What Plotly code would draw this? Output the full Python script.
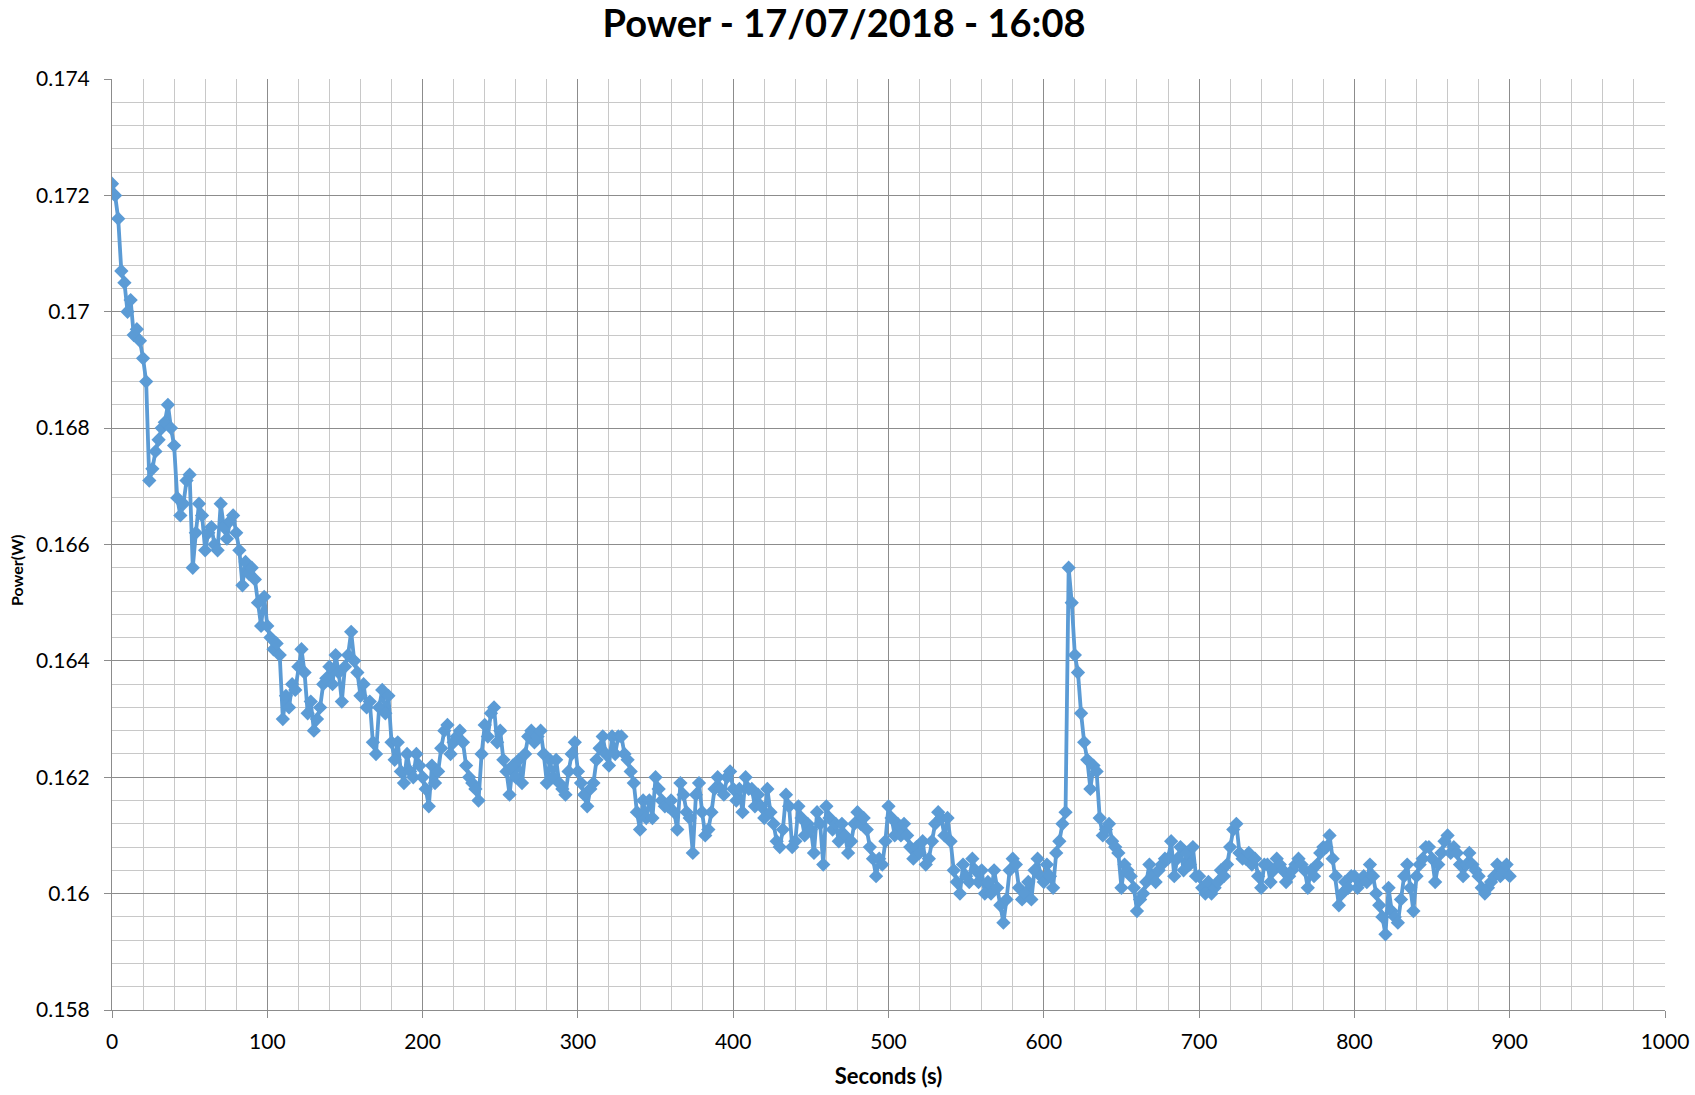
import plotly.graph_objects as go

# Time axis (seconds), one sample every 2 s
seconds = list(range(0, 901, 2))

# Power readings (W)
power = [
    # 0-18
    0.1722, 0.1720, 0.1716, 0.1707, 0.1705, 0.1700, 0.1702, 0.1696, 0.1697, 0.1695,
    # 20-38
    0.1692, 0.1688, 0.1671, 0.1673, 0.1676, 0.1678, 0.1680, 0.1681, 0.1684, 0.1680,
    # 40-58
    0.1677, 0.1668, 0.1665, 0.1667, 0.1671, 0.1672, 0.1656, 0.1662, 0.1667, 0.1665,
    # 60-78
    0.1659, 0.1662, 0.1663, 0.1660, 0.1659, 0.1667, 0.1663, 0.1661, 0.1664, 0.1665,
    # 80-98
    0.1662, 0.1659, 0.1653, 0.1657, 0.1655, 0.1656, 0.1654, 0.1650, 0.1646, 0.1651,
    # 100-118
    0.1646, 0.1644, 0.1642, 0.1643, 0.1641, 0.1630, 0.1634, 0.1632, 0.1636, 0.1635,
    # 120-138
    0.1639, 0.1642, 0.1638, 0.1631, 0.1633, 0.1628, 0.1630, 0.1632, 0.1636, 0.1637,
    # 140-158
    0.1639, 0.1636, 0.1641, 0.1638, 0.1633, 0.1639, 0.1641, 0.1645, 0.1640, 0.1638,
    # 160-178
    0.1634, 0.1636, 0.1632, 0.1633, 0.1626, 0.1624, 0.1632, 0.1635, 0.1631, 0.1634,
    # 180-198
    0.1626, 0.1623, 0.1626, 0.1621, 0.1619, 0.1624, 0.1621, 0.1620, 0.1624, 0.1622,
    # 200-218
    0.1620, 0.1618, 0.1615, 0.1622, 0.1619, 0.1621, 0.1625, 0.1628, 0.1629, 0.1624,
    # 220-238
    0.1626, 0.1627, 0.1628, 0.1626, 0.1622, 0.1620, 0.1619, 0.1618, 0.1616, 0.1624,
    # 240-258
    0.1629, 0.1627, 0.1631, 0.1632, 0.1626, 0.1628, 0.1623, 0.1621, 0.1617, 0.1622,
    # 260-278
    0.1620, 0.1623, 0.1619, 0.1624, 0.1627, 0.1628, 0.1626, 0.1627, 0.1628, 0.1624,
    # 280-298
    0.1619, 0.1623, 0.1620, 0.1623, 0.1619, 0.1618, 0.1617, 0.1621, 0.1624, 0.1626,
    # 300-318
    0.1621, 0.1619, 0.1617, 0.1615, 0.1618, 0.1619, 0.1623, 0.1625, 0.1627, 0.1624,
    # 320-338
    0.1622, 0.1627, 0.1624, 0.1627, 0.1627, 0.1624, 0.1623, 0.1621, 0.1619, 0.1614,
    # 340-358
    0.1611, 0.1616, 0.1613, 0.1616, 0.1613, 0.1620, 0.1618, 0.1616, 0.1615, 0.1615,
    # 360-378
    0.1616, 0.1614, 0.1611, 0.1619, 0.1617, 0.1614, 0.1613, 0.1607, 0.1617, 0.1619,
    # 380-398
    0.1614, 0.1610, 0.1611, 0.1614, 0.1618, 0.1620, 0.1618, 0.1617, 0.1620, 0.1621,
    # 400-418
    0.1618, 0.1616, 0.1618, 0.1614, 0.1620, 0.1618, 0.1618, 0.1615, 0.1617, 0.1615,
    # 420-438
    0.1613, 0.1618, 0.1614, 0.1612, 0.1609, 0.1608, 0.1611, 0.1617, 0.1615, 0.1608,
    # 440-458
    0.1609, 0.1615, 0.1613, 0.1610, 0.1612, 0.1611, 0.1607, 0.1614, 0.1612, 0.1605,
    # 460-478
    0.1615, 0.1613, 0.1611, 0.1612, 0.1609, 0.1612, 0.1610, 0.1607, 0.1609, 0.1612,
    # 480-498
    0.1614, 0.1612, 0.1613, 0.1611, 0.1608, 0.1606, 0.1603, 0.1606, 0.1605, 0.1609,
    # 500-518
    0.1615, 0.1613, 0.1610, 0.1612, 0.1610, 0.1612, 0.1610, 0.1608, 0.1606, 0.1608,
    # 520-538
    0.1607, 0.1609, 0.1605, 0.1606, 0.1609, 0.1612, 0.1614, 0.1613, 0.1610, 0.1613,
    # 540-558
    0.1609, 0.1604, 0.1602, 0.1600, 0.1605, 0.1603, 0.1602, 0.1606, 0.1604, 0.1602,
    # 560-578
    0.1604, 0.1600, 0.1602, 0.1600, 0.1604, 0.1601, 0.1598, 0.1595, 0.1599, 0.1604,
    # 580-598
    0.1606, 0.1605, 0.1601, 0.1599, 0.1600, 0.1602, 0.1599, 0.1604, 0.1606, 0.1603,
    # 600-618
    0.1602, 0.1605, 0.1603, 0.1601, 0.1607, 0.1609, 0.1612, 0.1614, 0.1656, 0.1650,
    # 620-638
    0.1641, 0.1638, 0.1631, 0.1626, 0.1623, 0.1618, 0.1622, 0.1621, 0.1613, 0.1610,
    # 640-658
    0.1611, 0.1612, 0.1609, 0.1608, 0.1607, 0.1601, 0.1605, 0.1604, 0.1603, 0.1601,
    # 660-678
    0.1597, 0.1599, 0.1600, 0.1602, 0.1605, 0.1603, 0.1602, 0.1604, 0.1605, 0.1606,
    # 680-698
    0.1606, 0.1609, 0.1603, 0.1606, 0.1608, 0.1604, 0.1607, 0.1605, 0.1608, 0.1603,
    # 700-718
    0.1603, 0.1601, 0.1600, 0.1602, 0.1600, 0.1601, 0.1602, 0.1604, 0.1603, 0.1605,
    # 720-738
    0.1608, 0.1611, 0.1612, 0.1607, 0.1606, 0.1606, 0.1607, 0.1605, 0.1606, 0.1603,
    # 740-758
    0.1601, 0.1605, 0.1605, 0.1602, 0.1604, 0.1606, 0.1605, 0.1604, 0.1602, 0.1603,
    # 760-778
    0.1604, 0.1605, 0.1606, 0.1605, 0.1604, 0.1601, 0.1604, 0.1603, 0.1605, 0.1607,
    # 780-798
    0.1608, 0.1608, 0.1610, 0.1606, 0.1603, 0.1598, 0.1600, 0.1602, 0.1601, 0.1603,
    # 800-818
    0.1603, 0.1601, 0.1602, 0.1603, 0.1602, 0.1605, 0.1603, 0.1600, 0.1598, 0.1596,
    # 820-838
    0.1593, 0.1601, 0.1597, 0.1596, 0.1595, 0.1599, 0.1603, 0.1605, 0.1601, 0.1597,
    # 840-858
    0.1603, 0.1605, 0.1606, 0.1608, 0.1608, 0.1606, 0.1602, 0.1605, 0.1607, 0.1609,
    # 860-878
    0.1610, 0.1607, 0.1608, 0.1607, 0.1605, 0.1603, 0.1605, 0.1607, 0.1605, 0.1604,
    # 880-898
    0.1603, 0.1601, 0.1600, 0.1601, 0.1602, 0.1603, 0.1605, 0.1603, 0.1604, 0.1605,
    # 900
    0.1603,
]

y_tickvals = [0.158, 0.160, 0.162, 0.164, 0.166, 0.168, 0.170, 0.172, 0.174]
y_ticktext = ["0.158", "0.16", "0.162", "0.164", "0.166", "0.168", "0.17", "0.172", "0.174"]
x_tickvals = [0, 100, 200, 300, 400, 500, 600, 700, 800, 900, 1000]
x_ticktext = [str(v) for v in x_tickvals]

FONT = "Lato, 'Open Sans', sans-serif"
BLUE = "#5B9BD5"
MAJOR = "#8C8C8C"
MINOR = "#C8C8C8"

W, H = 1695, 1095

fig = go.Figure()
fig.add_trace(go.Scatter(
    x=seconds, y=power, mode="lines+markers",
    line=dict(color=BLUE, width=3.8),
    marker=dict(symbol="diamond", size=11, color=BLUE),
    showlegend=False,
))

fig.update_layout(
    width=W, height=H,
    margin=dict(l=112, r=30, t=79, b=85),
    paper_bgcolor="white", plot_bgcolor="white",
    font=dict(family=FONT, color="#000000"),
    title=dict(text="<b>Power - 17/07/2018 - 16:08</b>", x=844 / W, xanchor="center",
               yref="container", y=1 - 24 / H, yanchor="middle",
               font=dict(size=38, family=FONT, color="#000")),
    xaxis=dict(
        range=[0, 1000], tickvals=x_tickvals, ticktext=x_ticktext,
        automargin=False,
        showgrid=True, gridcolor=MAJOR, gridwidth=1,
        minor=dict(dtick=20, tick0=0, showgrid=True, gridcolor=MINOR, gridwidth=1, ticks=""),
        showline=True, linecolor=MAJOR, linewidth=1,
        ticks="outside", ticklen=7, tickcolor=MAJOR,
        tickfont=dict(size=21, family=FONT, color="#000"),
        ticklabelstandoff=6,
        title=dict(text="<b>Seconds (s)</b>", font=dict(size=22, family=FONT, color="#000"), standoff=16),
        zeroline=False,
    ),
    yaxis=dict(
        range=[0.158, 0.174], tickvals=y_tickvals, ticktext=y_ticktext,
        automargin=False,
        showgrid=True, gridcolor=MAJOR, gridwidth=1,
        minor=dict(dtick=0.0004, tick0=0.158, showgrid=True, gridcolor=MINOR, gridwidth=1, ticks=""),
        showline=True, linecolor=MAJOR, linewidth=1,
        ticks="outside", ticklen=7, tickcolor=MAJOR,
        tickfont=dict(size=21, family=FONT, color="#000"),
        ticklabelstandoff=10,
        zeroline=False,
    ),
    annotations=[dict(
        text="<b>Power(W)</b>", textangle=-90, showarrow=False,
        xref="paper", yref="paper", x=(16 - 112) / (W - 112 - 30), y=(1010 - 571) / (1010 - 79),
        xanchor="center", yanchor="middle",
        font=dict(size=16, family=FONT, color="#000"),
    )],
)

# Remove the default 8 px body margin so the figure fills the window exactly
fig.write_html("out.html", config={"displayModeBar": False},
               post_script="document.body.style.margin='0';")
